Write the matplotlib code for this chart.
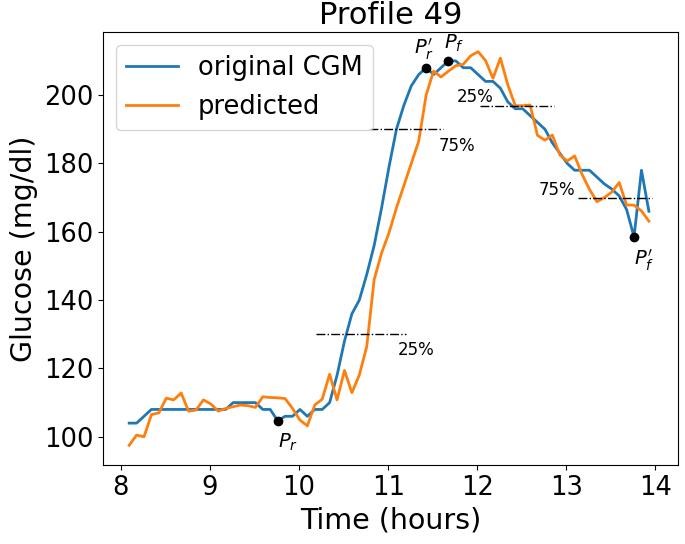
import numpy as np
import matplotlib
matplotlib.use("Agg")
import matplotlib.pyplot as plt

# CGM samples every 5 minutes
t_start = 8.093
step_min = 5

cgm = [104, 104, 106, 108, 108, 108, 108, 108, 108, 108,
       108, 108, 108, 108, 110, 110, 110, 110, 108, 108,
       104.7, 106, 106, 108, 106, 108, 108, 110, 118, 128,
       136, 140, 147.5, 156, 167, 179, 190, 197, 202.7, 206,
       208, 206, 208, 210, 210, 208, 208, 206, 204, 204,
       202, 198, 196, 196, 194, 192, 190, 186, 183, 180,
       178, 178, 178, 176, 174, 172.5, 170.5, 166.5, 158.5, 178,
       166]

pred = [97.5, 100.5, 100, 106.5, 107, 111.3, 110.8, 112.8, 107.5, 107.8,
        110.8, 109.6, 107.5, 108.3, 108.8, 109.3, 109.1, 108.6, 111.7, 111.5,
        111.4, 111.2, 108.3, 104.9, 103.2, 109.3, 111, 118.3, 110.8, 119.4,
        112.9, 118.1, 126.4, 146, 153.8, 159.7, 167, 173.5, 180, 186.5,
        200, 207, 205.3, 207, 208.6, 209, 211.5, 212.7, 210.1, 204.9,
        210.8, 203, 196.9, 196.9, 197.1, 188.2, 186.8, 188.3, 182.5, 180.7,
        182.2, 176.8, 172.4, 168.8, 170, 171.6, 174.4, 167.8, 167.8, 166.1,
        163.1]

# key points (index into cgm) and their labels
pt_idx = [20, 40, 43, 68]
pt_labels = ["$P_r$", "$P_r'$", "$P_f$", "$P_f'$"]
pt_offsets = [(0, -8), (-9, 4), (-3, 5), (0, -8)]
pt_align = [("left", "top"), ("left", "bottom"), ("left", "bottom"), ("left", "top")]

# 25% / 75% threshold lines: (y, x0, x1, label, label x, label y)
lvl_y = [130, 190, 196.8, 170]
lvl_x0 = [10.19, 10.79, 12.03, 13.13]
lvl_x1 = [11.20, 11.61, 12.86, 13.96]
lvl_text = ["25%", "75%", "25%", "75%"]
lvl_tx = [11.11, 11.57, 11.77, 12.69]
lvl_ty = [125.4, 185.1, 199.3, 172.2]

t = t_start + np.arange(len(cgm)) * step_min / 60

fig = plt.figure(figsize=(6.85, 5.44), dpi=100)
ax = fig.add_axes([0.1504, 0.1452, 0.8394, 0.796])

ax.plot(t, cgm, color="tab:blue", lw=2, label="original CGM")
ax.plot(t, pred, color="tab:orange", lw=2, label="predicted")

for y, x0, x1, s, tx, ty in zip(lvl_y, lvl_x0, lvl_x1, lvl_text, lvl_tx, lvl_ty):
    ax.plot([x0, x1], [y, y], color="black", ls="-.", lw=1)
    ax.text(tx, ty, s, fontsize=12, ha="left", va="center")

for i, s, off, (ha, va) in zip(pt_idx, pt_labels, pt_offsets, pt_align):
    ax.plot(t[i], cgm[i], "o", color="black", ms=6)
    ax.annotate(s, (t[i], cgm[i]), xytext=off, textcoords="offset points",
                fontsize=14, ha=ha, va=va)

ax.set_title("Profile 49", fontsize=22)
ax.set_xlabel("Time (hours)", fontsize=20.5)
ax.set_ylabel("Glucose (mg/dl)", fontsize=20.5)
ax.tick_params(labelsize=18.5)
ax.legend(loc="upper left", fontsize=18.5)

fig.savefig("out.png", dpi=100)
